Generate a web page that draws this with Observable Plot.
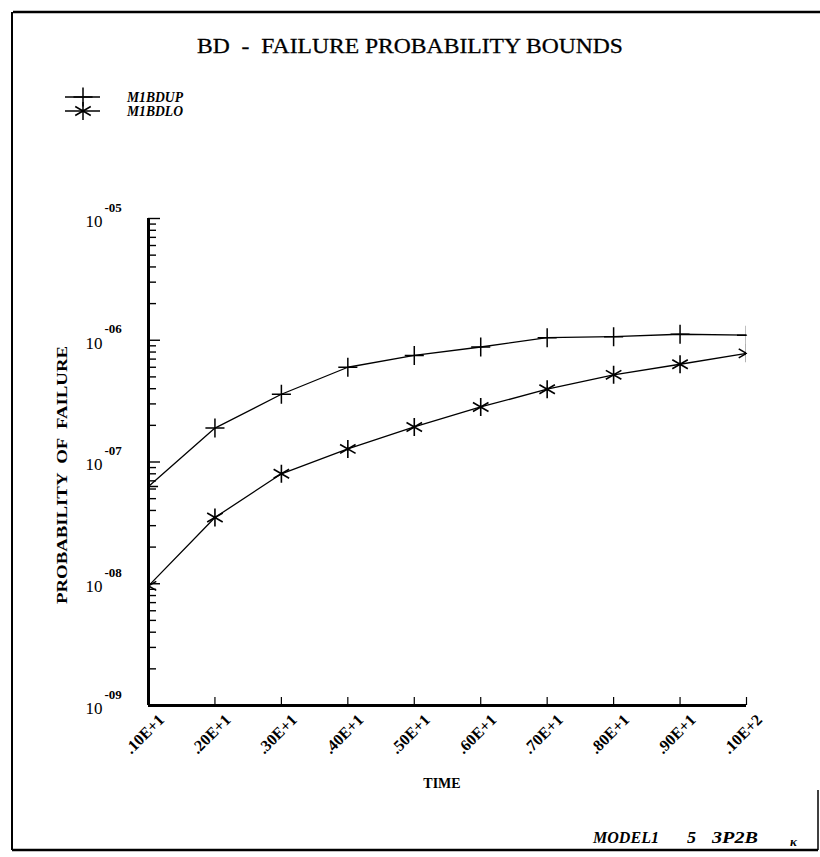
<!DOCTYPE html>
<html><head><meta charset="utf-8">
<script src="https://cdn.jsdelivr.net/npm/d3@7"></script>
<script src="https://cdn.jsdelivr.net/npm/@observablehq/plot@0.6"></script>
<style>
html,body{margin:0;padding:0;background:#fff;}
#chart{width:820px;height:857px;}
</style></head><body><div id="chart"></div>
<script>
const times = [1, 2, 3, 4, 5, 6, 7, 8, 9, 10];
const upperValues = [6.3e-8, 1.9e-7, 3.6e-7, 6.0e-7, 7.5e-7, 8.8e-7, 1.05e-6, 1.07e-6, 1.12e-6, 1.1e-6];
const lowerValues = [9.6e-9, 3.5e-8, 8.0e-8, 1.28e-7, 1.94e-7, 2.83e-7, 3.96e-7, 5.2e-7, 6.35e-7, 7.8e-7];
const seriesNames = ["M1BDUP", "M1BDLO"];
const xTickLabels = [".10E+1", ".20E+1", ".30E+1", ".40E+1", ".50E+1", ".60E+1", ".70E+1", ".80E+1", ".90E+1", ".10E+2"];
const yDecades = [1e-9, 1e-8, 1e-7, 1e-6, 1e-5];
const yExponents = ["-09", "-08", "-07", "-06", "-05"];
const titleText = "BD  -  FAILURE PROBABILITY BOUNDS";
const yLabelText = "PROBABILITY  OF  FAILURE";
const xLabelText = "TIME";
const footerTexts = ["MODEL1", "5", "3P2B"];

const yMinor = yDecades.slice(0, -1).flatMap(d => [2,3,4,5,6,7,8,9].map(k => k * d));

const rows = times.flatMap((t, i) => [
  {t, v: upperValues[i], s: seriesNames[0]},
  {t, v: lowerValues[i], s: seriesNames[1]}
]);

const serif = "'Liberation Serif', 'DejaVu Serif', serif";

const chart = Plot.plot({
  width: 820, height: 857,
  marginLeft: 148, marginRight: 74, marginTop: 218, marginBottom: 152,
  style: {fontFamily: serif, background: "#fff", color: "#000"},
  x: {domain: [1, 10], label: null},
  y: {type: "log", domain: [1e-9, 1e-5], label: null},
  marks: [
    Plot.axisY({ticks: yMinor, tickSize: 8, dx: 8, fill: "none", strokeWidth: 1.4}),
    Plot.axisY({ticks: yDecades, tickSize: 12, dx: 12, fill: "none", strokeWidth: 1.4}),
    Plot.axisY({ticks: yDecades, tickSize: 0, tickPadding: 46, tickFormat: () => "10", fontSize: 17, dy: 3}),
    Plot.axisY({ticks: yDecades, tickSize: 0, tickPadding: 44, textAnchor: "start", dy: -11,
      tickFormat: d => yExponents[yDecades.indexOf(d)], fontSize: 13, fontWeight: "bold"}),
    Plot.axisX({ticks: times.slice(1), tickSize: 8, dy: -8, fill: "none", strokeWidth: 1.2}),
    Plot.axisX({ticks: times, tickSize: 0, tickRotate: -45, textAnchor: "end",
      tickFormat: d => xTickLabels[times.indexOf(d)], fontSize: 16, fontWeight: "bold", dx: 13, dy: 0}),
    Plot.ruleX([1], {strokeWidth: 3}),
    Plot.ruleY([1e-9], {strokeWidth: 3}),
    Plot.line(rows, {x: "t", y: "v", z: "s", stroke: "#000", strokeWidth: 1.3}),
    Plot.dot(rows, {filter: d => d.s === seriesNames[0], x: "t", y: "v", symbol: "plus", r: 6.2, stroke: "#000", strokeWidth: 1.5, clip: true}),
    Plot.dot(rows, {filter: d => d.s === seriesNames[1], x: "t", y: "v", symbol: "asterisk", r: 8.5, stroke: "#000", strokeWidth: 1.6, clip: true})
  ]
});
document.getElementById("chart").appendChild(chart);

const svg = d3.select(chart);
const g = svg.append("g").attr("fill", "#000").attr("font-family", serif).attr("text-anchor", "start");
// page frame
const frame = [[13,12,820,12,2.6],[12,12,12,850,2],[12,850,818,850,2.6],[818,790,818,850,1.5]];
frame.forEach(([x1,y1,x2,y2,w]) => g.append("line").attr("x1",x1).attr("y1",y1).attr("x2",x2).attr("y2",y2).attr("stroke","#000").attr("stroke-width",w));
// title
g.append("text").attr("x", 410).attr("y", 53).attr("text-anchor", "middle").attr("font-size", 22)
  .attr("stroke", "#000").attr("stroke-width", 0.3)
  .attr("textLength", 426).attr("lengthAdjust", "spacingAndGlyphs").text(titleText);
// legend
const legSyms = [["plus", 6.2, 97], ["asterisk", 8.5, 111]];
legSyms.forEach(([sym, r, y], i) => {
  g.append("line").attr("x1", 65).attr("x2", 100).attr("y1", y).attr("y2", y).attr("stroke", "#000").attr("stroke-width", 1.3);
  const type = sym === "plus" ? d3.symbolPlus : d3.symbolAsterisk;
  g.append("path").attr("d", d3.symbol(type, Math.PI * r * r)()).attr("transform", `translate(83,${y})`)
    .attr("fill", "none").attr("stroke", "#000").attr("stroke-width", 1.5);
  g.append("text").attr("x", 127).attr("y", y + 5).attr("text-anchor", "start").attr("font-size", 14).attr("font-weight", "bold")
    .attr("font-style", "italic").attr("textLength", 56).attr("lengthAdjust", "spacingAndGlyphs").text(seriesNames[i]);
});
// y label
g.append("text").attr("transform", "translate(67,475) rotate(-90)").attr("text-anchor", "middle")
  .attr("font-size", 15).attr("font-weight", "bold").attr("textLength", 258).attr("lengthAdjust", "spacingAndGlyphs").text(yLabelText);
// x label
g.append("text").attr("x", 442).attr("y", 788).attr("text-anchor", "middle").attr("font-size", 14)
  .attr("font-weight", "bold").text(xLabelText);
// footer
[[593, 0, 66], [687, 1, 9], [712, 2, 46]].forEach(([x, i, len]) => {
  g.append("text").attr("x", x).attr("y", 843).attr("text-anchor", "start").attr("font-size", 16).attr("font-weight", "bold")
    .attr("font-style", "italic").attr("textLength", len).attr("lengthAdjust", "spacingAndGlyphs").text(footerTexts[i]);
});
g.append("text").attr("x", 790).attr("y", 846).attr("text-anchor", "start").attr("font-size", 13).attr("font-weight", "bold").attr("font-style", "italic").text("κ");
</script></body></html>
